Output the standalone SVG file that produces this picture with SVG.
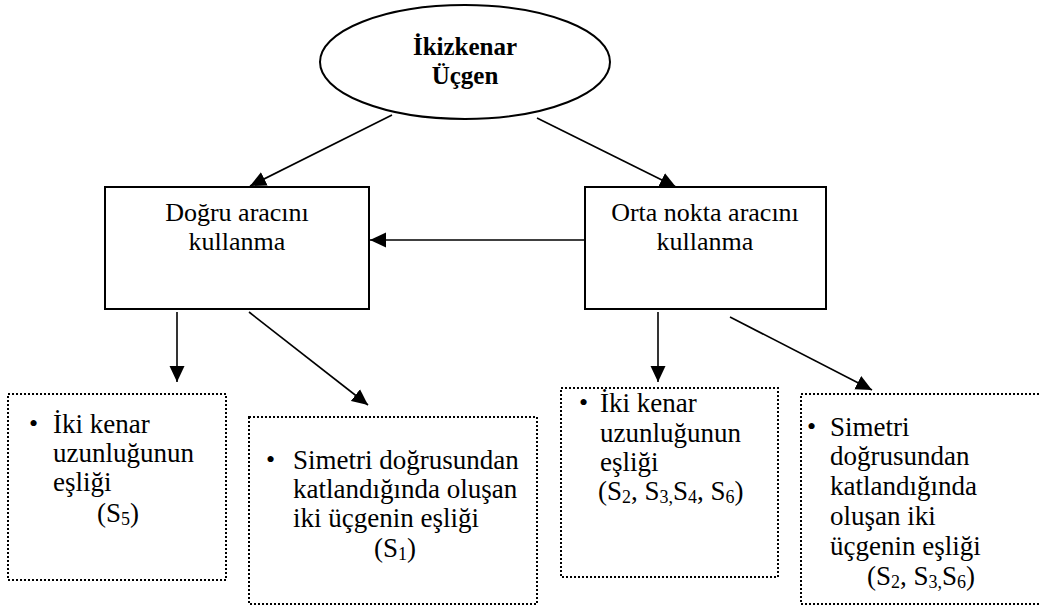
<svg xmlns="http://www.w3.org/2000/svg" width="1039" height="610" viewBox="0 0 1039 610">
<style>
text{font-family:'Liberation Serif','Times New Roman','DejaVu Serif',serif}
.t{font-size:26px;fill:#000}
.k{font-size:27px}
.b{font-weight:bold;font-size:25px}
.m{text-anchor:middle}
.bul{font-size:26px}
.solid{fill:#fff;stroke:#000;stroke-width:2}
.dot{fill:#fff;stroke:#000;stroke-width:2;stroke-dasharray:2 2}
.c{stroke:#000;stroke-width:1.6;fill:none;marker-end:url(#ah)}
</style>
<defs>
<marker id="ah" markerUnits="userSpaceOnUse" markerWidth="17" markerHeight="16" refX="16" refY="7.5" orient="auto" viewBox="0 0 17 15">
<path d="M0,0 L16,7.5 L0,15 z" fill="#000"/>
</marker>
</defs>
<rect width="1039" height="610" fill="#fff"/>
<g id="n-ikizkenar">
<ellipse class="solid" cx="465" cy="62" rx="145" ry="57"/>
<text class="t b m" x="465" y="55">İkizkenar</text>
<text class="t b m" x="465" y="84">Üçgen</text>
</g>
<g id="n-dogru">
<rect class="solid" x="105" y="187" width="264" height="122"/>
<text class="t m" x="237" y="221">Doğru aracını</text>
<text class="t m" x="237" y="250">kullanma</text>
</g>
<g id="n-orta">
<rect class="solid" x="585" y="187" width="241" height="122"/>
<text class="t m" x="705" y="221">Orta nokta aracını</text>
<text class="t m" x="705" y="250">kullanma</text>
</g>
<g id="n-box1">
<rect class="dot" x="8" y="394" width="218" height="186"/>
<text class="t bul" x="29" y="432">•</text>
<text class="t k" x="53" y="433">İki kenar</text>
<text class="t k" x="53" y="462">uzunluğunun</text>
<text class="t k" x="53" y="491">eşliği</text>
<text class="t k m" x="118" y="522">(S<tspan font-size="18" dy="3">5</tspan><tspan dy="-3">)</tspan></text>
</g>
<g id="n-box2">
<rect class="dot" x="249" y="417" width="288" height="187"/>
<text class="t bul" x="266" y="468">•</text>
<text class="t k" x="293" y="469">Simetri doğrusundan</text>
<text class="t k" x="293" y="498">katlandığında oluşan</text>
<text class="t k" x="293" y="527">iki üçgenin eşliği</text>
<text class="t k m" x="395" y="557">(S<tspan font-size="18" dy="3">1</tspan><tspan dy="-3">)</tspan></text>
</g>
<g id="n-box3">
<rect class="dot" x="561" y="388" width="217" height="189"/>
<text class="t bul" x="579" y="411">•</text>
<text class="t k" x="600" y="412">İki kenar</text>
<text class="t k" x="600" y="442">uzunluğunun</text>
<text class="t k" x="600" y="471">eşliği</text>
<text class="t k" x="598" y="500">(S<tspan font-size="18" dy="3">2</tspan><tspan dy="-3">, S</tspan><tspan font-size="18" dy="3">3,</tspan><tspan dy="-3">S</tspan><tspan font-size="18" dy="3">4</tspan><tspan dy="-3">, S</tspan><tspan font-size="18" dy="3">6</tspan><tspan dy="-3">)</tspan></text>
</g>
<g id="n-box4">
<rect class="dot" x="801" y="394" width="250" height="210"/>
<text class="t bul" x="807" y="435">•</text>
<text class="t k" x="830" y="436">Simetri</text>
<text class="t k" x="830" y="465">doğrusundan</text>
<text class="t k" x="830" y="495">katlandığında</text>
<text class="t k" x="830" y="525">oluşan iki</text>
<text class="t k" x="830" y="555">üçgenin eşliği</text>
<text class="t k m" x="921" y="585">(S<tspan font-size="18" dy="3">2</tspan><tspan dy="-3">, S</tspan><tspan font-size="18" dy="3">3,</tspan><tspan dy="-3">S</tspan><tspan font-size="18" dy="3">6</tspan><tspan dy="-3">)</tspan></text>
</g>
<g id="connectors">
<line class="c" x1="392" y1="115" x2="250" y2="186"/>
<line class="c" x1="537" y1="118" x2="676" y2="187"/>
<line class="c" x1="585" y1="240" x2="370" y2="240"/>
<line class="c" x1="177" y1="312" x2="177" y2="382"/>
<line class="c" x1="249" y1="312" x2="368" y2="405"/>
<line class="c" x1="658" y1="312" x2="658" y2="382"/>
<line class="c" x1="730" y1="317" x2="872" y2="390"/>
</g>
</svg>
